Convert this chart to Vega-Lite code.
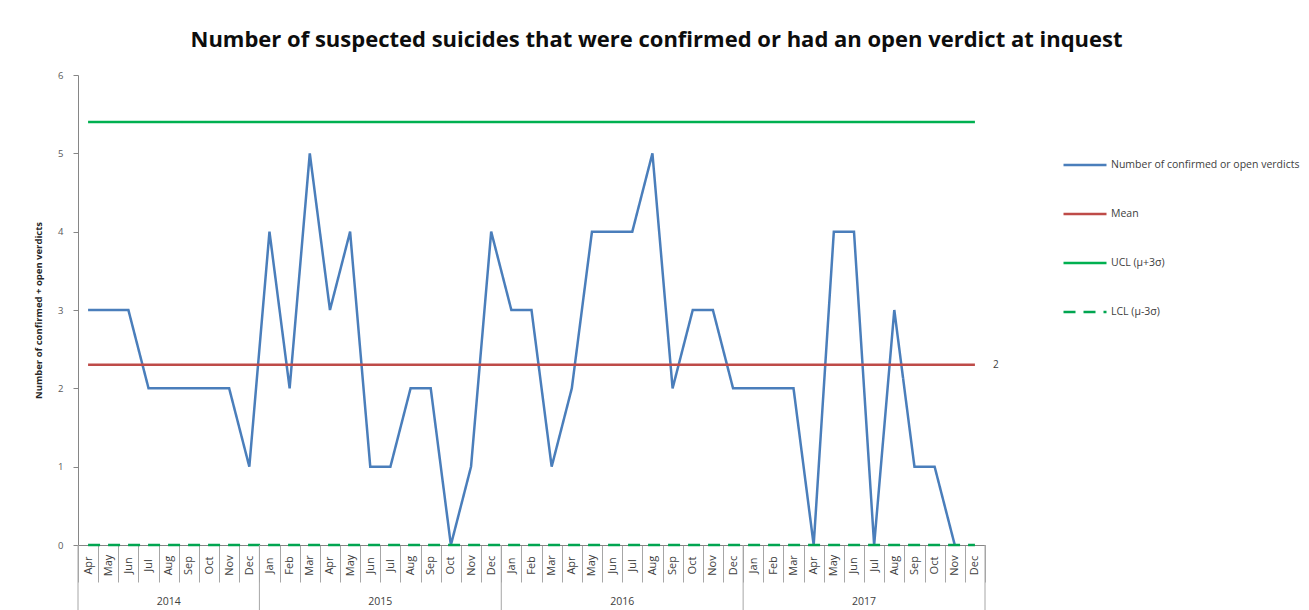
{
  "$schema": "https://vega.github.io/schema/vega-lite/v6.json",
  "width": 907,
  "height": 470,
  "autosize": {"type": "none"},
  "padding": {"left": 78, "top": 75, "right": 324, "bottom": 65},
  "background": "white",
  "config": {"view": {"stroke": null}, "font": "Open Sans"},
  "title": {
    "text": "Number of suspected suicides that were confirmed or had an open verdict at inquest",
    "font": "Open Sans",
    "fontSize": 22,
    "fontWeight": "bold",
    "color": "#0d0d0d",
    "anchor": "middle",
    "frame": "group",
    "dx": 125,
    "dy": 20,
    "offset": 21,
    "baseline": "alphabetic"
  },
  "data": {
    "values": [
      {"ym": "2014-04", "year": "2014", "count": 3, "mean": 2.3, "ucl": 5.4, "lcl": 0},
      {"ym": "2014-05", "year": "2014", "count": 3, "mean": 2.3, "ucl": 5.4, "lcl": 0},
      {"ym": "2014-06", "year": "2014", "count": 3, "mean": 2.3, "ucl": 5.4, "lcl": 0},
      {"ym": "2014-07", "year": "2014", "count": 2, "mean": 2.3, "ucl": 5.4, "lcl": 0},
      {"ym": "2014-08", "year": "2014", "count": 2, "mean": 2.3, "ucl": 5.4, "lcl": 0},
      {"ym": "2014-09", "year": "2014", "count": 2, "mean": 2.3, "ucl": 5.4, "lcl": 0},
      {"ym": "2014-10", "year": "2014", "count": 2, "mean": 2.3, "ucl": 5.4, "lcl": 0},
      {"ym": "2014-11", "year": "2014", "count": 2, "mean": 2.3, "ucl": 5.4, "lcl": 0},
      {"ym": "2014-12", "year": "2014", "count": 1, "mean": 2.3, "ucl": 5.4, "lcl": 0},
      {"ym": "2015-01", "year": "2015", "count": 4, "mean": 2.3, "ucl": 5.4, "lcl": 0},
      {"ym": "2015-02", "year": "2015", "count": 2, "mean": 2.3, "ucl": 5.4, "lcl": 0},
      {"ym": "2015-03", "year": "2015", "count": 5, "mean": 2.3, "ucl": 5.4, "lcl": 0},
      {"ym": "2015-04", "year": "2015", "count": 3, "mean": 2.3, "ucl": 5.4, "lcl": 0},
      {"ym": "2015-05", "year": "2015", "count": 4, "mean": 2.3, "ucl": 5.4, "lcl": 0},
      {"ym": "2015-06", "year": "2015", "count": 1, "mean": 2.3, "ucl": 5.4, "lcl": 0},
      {"ym": "2015-07", "year": "2015", "count": 1, "mean": 2.3, "ucl": 5.4, "lcl": 0},
      {"ym": "2015-08", "year": "2015", "count": 2, "mean": 2.3, "ucl": 5.4, "lcl": 0},
      {"ym": "2015-09", "year": "2015", "count": 2, "mean": 2.3, "ucl": 5.4, "lcl": 0},
      {"ym": "2015-10", "year": "2015", "count": 0, "mean": 2.3, "ucl": 5.4, "lcl": 0},
      {"ym": "2015-11", "year": "2015", "count": 1, "mean": 2.3, "ucl": 5.4, "lcl": 0},
      {"ym": "2015-12", "year": "2015", "count": 4, "mean": 2.3, "ucl": 5.4, "lcl": 0},
      {"ym": "2016-01", "year": "2016", "count": 3, "mean": 2.3, "ucl": 5.4, "lcl": 0},
      {"ym": "2016-02", "year": "2016", "count": 3, "mean": 2.3, "ucl": 5.4, "lcl": 0},
      {"ym": "2016-03", "year": "2016", "count": 1, "mean": 2.3, "ucl": 5.4, "lcl": 0},
      {"ym": "2016-04", "year": "2016", "count": 2, "mean": 2.3, "ucl": 5.4, "lcl": 0},
      {"ym": "2016-05", "year": "2016", "count": 4, "mean": 2.3, "ucl": 5.4, "lcl": 0},
      {"ym": "2016-06", "year": "2016", "count": 4, "mean": 2.3, "ucl": 5.4, "lcl": 0},
      {"ym": "2016-07", "year": "2016", "count": 4, "mean": 2.3, "ucl": 5.4, "lcl": 0},
      {"ym": "2016-08", "year": "2016", "count": 5, "mean": 2.3, "ucl": 5.4, "lcl": 0},
      {"ym": "2016-09", "year": "2016", "count": 2, "mean": 2.3, "ucl": 5.4, "lcl": 0},
      {"ym": "2016-10", "year": "2016", "count": 3, "mean": 2.3, "ucl": 5.4, "lcl": 0},
      {"ym": "2016-11", "year": "2016", "count": 3, "mean": 2.3, "ucl": 5.4, "lcl": 0},
      {"ym": "2016-12", "year": "2016", "count": 2, "mean": 2.3, "ucl": 5.4, "lcl": 0},
      {"ym": "2017-01", "year": "2017", "count": 2, "mean": 2.3, "ucl": 5.4, "lcl": 0},
      {"ym": "2017-02", "year": "2017", "count": 2, "mean": 2.3, "ucl": 5.4, "lcl": 0},
      {"ym": "2017-03", "year": "2017", "count": 2, "mean": 2.3, "ucl": 5.4, "lcl": 0},
      {"ym": "2017-04", "year": "2017", "count": 0, "mean": 2.3, "ucl": 5.4, "lcl": 0},
      {"ym": "2017-05", "year": "2017", "count": 4, "mean": 2.3, "ucl": 5.4, "lcl": 0},
      {"ym": "2017-06", "year": "2017", "count": 4, "mean": 2.3, "ucl": 5.4, "lcl": 0},
      {"ym": "2017-07", "year": "2017", "count": 0, "mean": 2.3, "ucl": 5.4, "lcl": 0},
      {"ym": "2017-08", "year": "2017", "count": 3, "mean": 2.3, "ucl": 5.4, "lcl": 0},
      {"ym": "2017-09", "year": "2017", "count": 1, "mean": 2.3, "ucl": 5.4, "lcl": 0},
      {"ym": "2017-10", "year": "2017", "count": 1, "mean": 2.3, "ucl": 5.4, "lcl": 0},
      {"ym": "2017-11", "year": "2017", "count": 0, "mean": 2.3, "ucl": 5.4, "lcl": 0},
      {"ym": "2017-12", "year": "2017", "count": null, "mean": 2.3, "ucl": 5.4, "lcl": 0}
    ]
  },
  "transform": [{"fold": ["count", "mean", "ucl", "lcl"], "as": ["series", "val"]}],
  "encoding": {
    "x": {
      "field": "ym",
      "type": "ordinal",
      "bandPosition": 0.5,
      "scale": {"type": "band", "paddingInner": 0, "paddingOuter": 0},
      "axis": {
        "orient": "bottom",
        "title": null,
        "grid": false,
        "tickBand": "extent",
        "tickSize": 37,
        "tickColor": "#a6a6a6",
        "domainColor": "#868686",
        "labelAngle": 270,
        "labelAlign": "center",
        "labelBaseline": "middle",
        "labelPadding": -17,
        "labelFontSize": 11,
        "labelColor": "#404040",
        "labelOverlap": false,
        "labelBound": false,
        "labelFlush": false,
        "labelExpr": "isString(datum.value) ? ['Jan','Feb','Mar','Apr','May','Jun','Jul','Aug','Sep','Oct','Nov','Dec'][toNumber(slice(datum.value, 5)) - 1] : ''"
      }
    },
    "y": {
      "field": "val",
      "type": "quantitative",
      "scale": {"domain": [0, 6], "nice": false, "zero": true},
      "axis": {
        "values": [0, 1, 2, 3, 4, 5, 6],
        "grid": false,
        "tickSize": 5,
        "tickColor": "#868686",
        "domainColor": "#868686",
        "labelColor": "#595959",
        "labelFontSize": 9.5,
        "labelPadding": 10,
        "title": "Number of confirmed + open verdicts",
        "titleFontSize": 9.5,
        "titleFontWeight": "bold",
        "titleColor": "#262626",
        "titlePadding": 14
      }
    }
  },
  "layer": [
    {
      "mark": {"type": "line", "strokeWidth": 2.5},
      "encoding": {
        "color": {
          "field": "series",
          "type": "nominal",
          "scale": {
            "domain": ["count", "mean", "ucl", "lcl"],
            "range": ["#4A7EBB", "#BE4B48", "#00B050", "#00A550"]
          },
          "legend": {
            "title": null,
            "orient": "none",
            "legendX": 984,
            "legendY": 67,
            "direction": "vertical",
            "padding": 0,
            "symbolType": "stroke",
            "symbolSize": 1849,
            "symbolStrokeWidth": 2.5,
            "labelFontSize": 10.5,
            "labelColor": "#404040",
            "labelOffset": 3,
            "labelLimit": 300,
            "rowPadding": 20,
            "labelExpr": "datum.value == 'count' ? 'Number of confirmed or open verdicts' : datum.value == 'mean' ? 'Mean' : datum.value == 'ucl' ? 'UCL (μ+3σ)' : 'LCL (μ-3σ)'"
          }
        },
        "strokeDash": {
          "field": "series",
          "type": "nominal",
          "scale": {
            "domain": ["count", "mean", "ucl", "lcl"],
            "range": [[1, 0], [1, 0], [1, 0], [12, 8]]
          }
        }
      }
    },
    {
      "transform": [{"filter": "datum.series == 'mean' && datum.ym == '2017-12'"}],
      "mark": {"type": "text", "dx": 21, "align": "center", "baseline": "middle", "fontSize": 10, "color": "#404040"},
      "encoding": {
        "text": {"field": "val", "type": "quantitative", "format": ".0f"}
      }
    },
    {
      "transform": [{"filter": "datum.series == 'mean' && (datum.ym == '2014-04' || slice(datum.ym, 5) == '01')"}],
      "mark": {"type": "rule", "color": "#a6a6a6", "strokeWidth": 1, "clip": false},
      "encoding": {
        "x": {"field": "ym", "type": "ordinal", "bandPosition": 0},
        "y": {"datum": 0},
        "y2": {"datum": -0.9}
      }
    },
    {
      "transform": [{"filter": "datum.series == 'mean' && datum.ym == '2017-12'"}],
      "mark": {"type": "rule", "color": "#a6a6a6", "strokeWidth": 1, "clip": false},
      "encoding": {
        "x": {"field": "ym", "type": "ordinal", "bandPosition": 1},
        "y": {"datum": 0},
        "y2": {"datum": -0.9}
      }
    },
    {
      "transform": [{"filter": "datum.series == 'mean' && datum.ym == '2014-08'"}],
      "mark": {"type": "text", "align": "center", "baseline": "middle", "fontSize": 10.5, "color": "#404040", "clip": false},
      "encoding": {
        "x": {"field": "ym", "type": "ordinal", "bandPosition": 0.5},
        "y": {"datum": -0.73},
        "text": {"field": "year", "type": "nominal"}
      }
    },
    {
      "transform": [{"filter": "datum.series == 'mean' && slice(datum.ym, 5) == '07' && datum.year != '2014'"}],
      "mark": {"type": "text", "align": "center", "baseline": "middle", "fontSize": 10.5, "color": "#404040", "clip": false},
      "encoding": {
        "x": {"field": "ym", "type": "ordinal", "bandPosition": 0},
        "y": {"datum": -0.73},
        "text": {"field": "year", "type": "nominal"}
      }
    }
  ]
}
